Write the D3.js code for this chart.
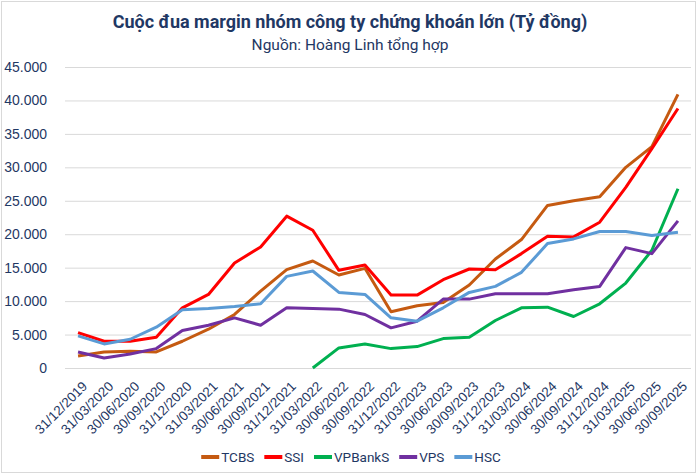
<!DOCTYPE html>
<html lang="vi">
<head>
	<meta http-equiv="Content-Type" content="text/html; charset=utf-8">
	<title>Cuộc đua margin</title>
	<script src="https://cdn.jsdelivr.net/npm/d3@7/dist/d3.min.js"></script>
	<style>
		body { margin: 0; background: #fff; }
		svg { font-family: Roboto, "Noto Sans", sans-serif; }
		.axis path, .axis line { display: none; }
		.axis text { fill: #1f3864; }
	</style>
</head>
<body>
<svg id="chart" width="700" height="475"></svg>

<script type="text/javascript">
	// quarter ends
	var quarters = ["31/12/2019", "31/03/2020", "30/06/2020", "30/09/2020", "31/12/2020", "31/03/2021",
		"30/06/2021", "30/09/2021", "31/12/2021", "31/03/2022", "30/06/2022", "30/09/2022",
		"31/12/2022", "31/03/2023", "30/06/2023", "30/09/2023", "31/12/2023", "31/03/2024",
		"30/06/2024", "30/09/2024", "31/12/2024", "31/03/2025", "30/06/2025", "30/09/2025"];

	// margin balance, billion VND
	var tcbs = [1800, 2400, 2500, 2400, 4000, 5800, 8000, 11500, 14700, 16000, 13900, 14900,
		8400, 9300, 9800, 12400, 16300, 19200, 24300, 25000, 25600, 30000, 33100, 40900];
	var ssi = [5300, 4000, 4000, 4600, 9000, 11000, 15700, 18100, 22700, 20600, 14600, 15400,
		10900, 10900, 13200, 14800, 14700, 17100, 19700, 19600, 21800, 27000, 32800, 38800];
	var vpbanks = [null, null, null, null, null, null, null, null, null, 0, 3000, 3600,
		2900, 3200, 4400, 4600, 7100, 9000, 9100, 7700, 9600, 12700, 17600, 26800];
	var vps = [2400, 1500, 2100, 2900, 5600, 6400, 7500, 6400, 9000, 8900, 8800, 8000,
		6000, 7000, 10300, 10300, 11100, 11100, 11100, 11700, 12200, 18000, 17100, 22000];
	var hsc = [4800, 3600, 4300, 6100, 8700, 8900, 9200, 9600, 13700, 14500, 11300, 11000,
		7500, 7000, 9000, 11300, 12200, 14300, 18600, 19300, 20400, 20400, 19800, 20300];

	var seriesNames = ["TCBS", "SSI", "VPBankS", "VPS", "HSC"];
	var seriesValues = [tcbs, ssi, vpbanks, vps, hsc];
	var seriesColors = ["#c55a11", "#ff0000", "#00b050", "#7030a0", "#5b9bd5"];

	var yTicks = [0, 5000, 10000, 15000, 20000, 25000, 30000, 35000, 40000, 45000];

	var svg = d3.select("#chart");
	var W = 700, H = 475;
	var plot = {left: 65, right: 691, top: 67, bottom: 368};

	var vn = d3.formatLocale({decimal: ",", thousands: ".", grouping: [3], currency: ["", ""]});
	var fmt = vn.format(",d");

	// chart frame
	svg.append("rect")
		.attr("x", 1.5).attr("y", 1.5)
		.attr("width", W - 6).attr("height", H - 4)
		.attr("fill", "#fff")
		.attr("stroke", "#d9d9d9");

	// titles
	svg.append("text")
		.attr("x", 350).attr("y", 28)
		.attr("text-anchor", "middle")
		.attr("font-size", 18).attr("font-weight", "bold")
		.attr("fill", "#1f3864")
		.text("Cuộc đua margin nhóm công ty chứng khoán lớn (Tỷ đồng)");
	svg.append("text")
		.attr("x", 350).attr("y", 50)
		.attr("text-anchor", "middle")
		.attr("font-size", 15.5)
		.attr("fill", "#1f3864")
		.text("Nguồn: Hoàng Linh tổng hợp");

	var x = d3.scaleBand()
		.domain(quarters)
		.range([plot.left, plot.right]);

	var y = d3.scaleLinear()
		.domain([0, 45000])
		.range([plot.bottom, plot.top]);

	// gridlines
	svg.append("g").selectAll("line")
		.data(yTicks)
		.enter().append("line")
		.attr("x1", plot.left).attr("x2", plot.right)
		.attr("y1", function(d){ return y(d) + 0.5 })
		.attr("y2", function(d){ return y(d) + 0.5 })
		.attr("stroke", "#d9d9d9")
		.attr("stroke-width", 1);

	// y-axis
	svg.append("g")
		.attr("class", "axis axis--y")
		.attr("transform", "translate(" + plot.left + ",0)")
		.call(d3.axisLeft(y).tickValues(yTicks).tickFormat(fmt).tickSize(0).tickPadding(18))
		.selectAll("text")
		.attr("font-size", 14);

	// x-axis, labels rotated
	var xAxis = svg.append("g")
		.attr("class", "axis axis--x")
		.attr("transform", "translate(0," + plot.bottom + ")")
		.call(d3.axisBottom(x).tickSize(0));
	xAxis.selectAll("text")
		.attr("font-size", 13.5)
		.attr("text-anchor", "end")
		.attr("dy", 0)
		.attr("transform", "translate(8,17) rotate(-45)");

	// lines
	var line = d3.line()
		.defined(function(d){ return d != null })
		.x(function(d, i){ return x(quarters[i]) + x.bandwidth() / 2 })
		.y(function(d){ return y(d) });

	svg.append("g").selectAll("path")
		.data(seriesValues)
		.enter().append("path")
		.attr("fill", "none")
		.attr("stroke", function(d, i){ return seriesColors[i] })
		.attr("stroke-width", 3)
		.attr("stroke-linejoin", "round")
		.attr("d", line);

	// legend
	var legend = svg.append("g").attr("transform", "translate(0,457)");
	var cursor = 0;
	seriesNames.forEach(function(name, i) {
		var item = legend.append("g");
		item.append("line")
			.attr("x1", 0).attr("x2", 18)
			.attr("y1", 0).attr("y2", 0)
			.attr("stroke", seriesColors[i])
			.attr("stroke-width", 4);
		var t = item.append("text")
			.attr("x", 20).attr("y", 5)
			.attr("font-size", 13.5)
			.attr("fill", "#1f3864")
			.text(name);
		var w = 20 + t.node().getComputedTextLength();
		item.attr("transform", "translate(" + cursor + ",0)");
		cursor += w + 10;
	});
	var total = cursor - 10;
	legend.attr("transform", "translate(" + (351 - total / 2) + ",457)");
</script>
</body>
</html>
